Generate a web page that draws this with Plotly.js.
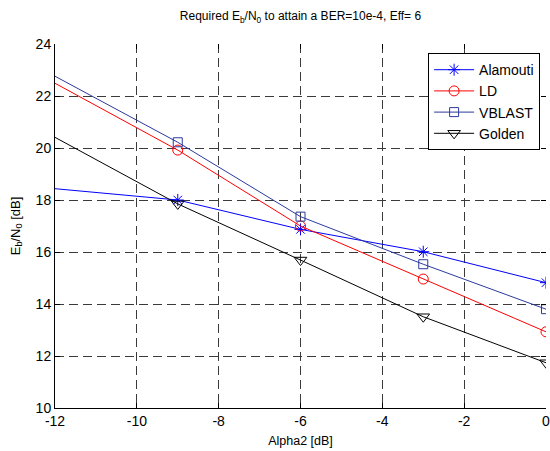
<!DOCTYPE html>
<html>
<head>
<meta charset="utf-8">
<script src="https://cdn.plot.ly/plotly-3.0.1.min.js"></script>
<style>html,body{margin:0;padding:0;background:#fff}#chart{width:550px;height:451px}</style>
</head>
<body>
<div id="chart"></div>
<script>
var alpha2 = [-15, -9, -6, -3, 0];
var alamouti = [18.87, 18.0, 16.87, 16.01, 14.82];
var ld = [25.06, 19.92, 17.0, 14.96, 12.93];
var vblast = [25.3, 20.22, 17.36, 15.53, 13.80];
var golden = [22.97, 17.85, 15.69, 13.51, 11.74];
var xTicks = [-12, -10, -8, -6, -4, -2, 0];
var yTicks = [10, 12, 14, 16, 18, 20, 22, 24];

var font = "Liberation Sans, Arial, sans-serif";
function tr(name, y, color, symbol, size) {
  return {
    x: alpha2, y: y, name: name, type: 'scatter', mode: 'lines+markers',
    line: {color: color, width: 1},
    marker: {symbol: symbol, size: size, color: color, line: {color: color, width: 1}},
    cliponaxis: true
  };
}
var data = [
  tr('Alamouti', alamouti, '#0000ff', 'asterisk-open', 10),
  tr('LD', ld, '#ff0000', 'circle-open', 10),
  tr('VBLAST', vblast, '#2b3a9c', 'square-open', 9),
  tr('Golden', golden, '#000000', 'triangle-down-open', 11)
];
var gridCommon = {
  showgrid: true, gridcolor: '#3a3a3a', griddash: '9px,5px', gridwidth: 1,
  zeroline: false, ticks: 'inside', ticklen: 5, tickcolor: '#000',
  tickfont: {family: font, size: 14, color: '#000'},
  ticklabeloverflow: 'allow'
};
var layout = {
  width: 550, height: 451,
  margin: {l: 55, r: 4, t: 44, b: 43},
  paper_bgcolor: '#fff', plot_bgcolor: '#fff',
  showlegend: true,
  title: {
    text: 'Required E<sub>b</sub>/N<sub>0</sub> to attain a BER=10e-4, Eff= 6',
    font: {family: font, size: 12, color: '#000'},
    x: 0.5, xref: 'paper', xanchor: 'center', y: 0.965, yref: 'container', yanchor: 'middle'
  },
  xaxis: Object.assign({}, gridCommon, {
    range: [-12, 0], tickvals: xTicks, ticktext: xTicks.map(String),
    showline: true, linecolor: '#000', linewidth: 1, automargin: false,
    title: {text: 'Alpha2 [dB]', font: {family: font, size: 12.5, color: '#000'}, standoff: 8}
  }),
  yaxis: Object.assign({}, gridCommon, {
    range: [10, 24], tickvals: yTicks, ticktext: yTicks.map(String),
    showline: true, linecolor: '#000', linewidth: 1, automargin: false,
    title: {text: 'E<sub>b</sub>/N<sub>0</sub> [dB]', font: {family: font, size: 13, color: '#000'}, standoff: 12}
  }),
  xaxis2: {overlaying: 'x', side: 'top', range: [-12, 0], tickvals: xTicks, showticklabels: false,
    ticks: 'inside', ticklen: 5, tickcolor: '#000', showgrid: false, zeroline: false, showline: false},
  yaxis2: {overlaying: 'y', side: 'right', range: [10, 24], tickvals: yTicks, showticklabels: false,
    ticks: 'inside', ticklen: 5, tickcolor: '#000', showgrid: false, zeroline: false, showline: false},
  legend: {
    x: 0.988, xanchor: 'right', y: 0.975, yanchor: 'top',
    bgcolor: '#fff', bordercolor: '#000', borderwidth: 1,
    font: {family: font, size: 14, color: '#000'},
    itemwidth: 40, tracegroupgap: 0
  }
};
// dummy trace to activate mirrored tick axes
data.push({x: [-100], y: [-100], xaxis: 'x2', yaxis: 'y2', showlegend: false, hoverinfo: 'skip', mode: 'markers'});
Plotly.newPlot('chart', data, layout, {displayModeBar: false, staticPlot: true});
</script>
</body>
</html>
